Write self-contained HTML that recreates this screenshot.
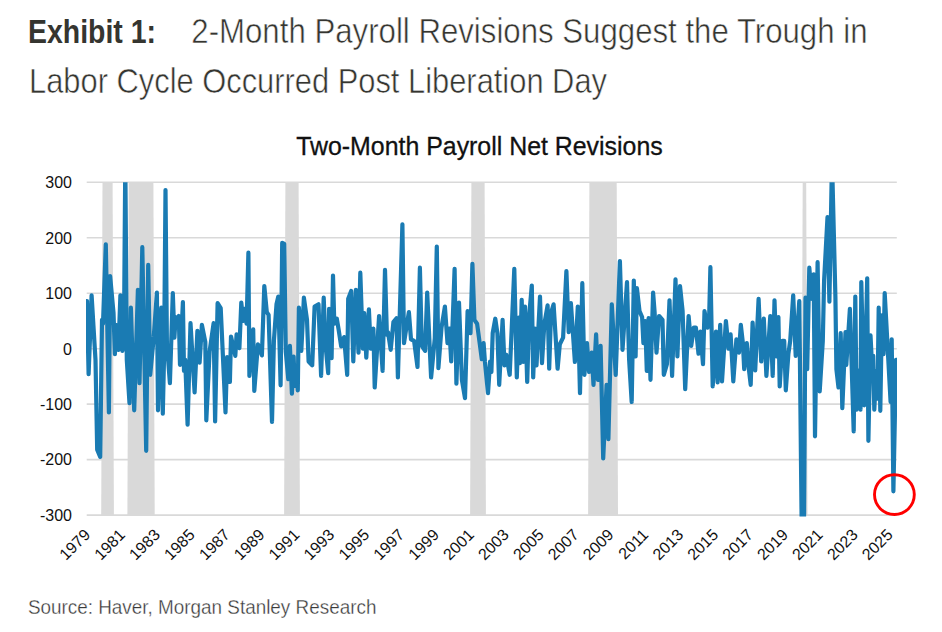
<!DOCTYPE html>
<html><head><meta charset="utf-8"><style>
html,body{margin:0;padding:0;background:#fff;}
body{width:942px;height:632px;overflow:hidden;position:relative;font-family:"Liberation Sans",sans-serif;}
svg{position:absolute;left:0;top:0;}
</style></head><body>
<svg width="942" height="632" viewBox="0 0 942 632" font-family="Liberation Sans, sans-serif">
<defs><clipPath id="pc"><rect x="86" y="182.2" width="811" height="334.4"/></clipPath></defs>
<g fill="#353530">
<text x="28.0" y="42.5" font-weight="bold" font-size="32.4" textLength="128.0" lengthAdjust="spacingAndGlyphs">Exhibit 1:</text>
<text x="191.3" y="43.1" font-size="34.6" fill="#353530" stroke="#fff" stroke-width="0.55" textLength="676.2" lengthAdjust="spacingAndGlyphs">2-Month Payroll Revisions Suggest the Trough in</text>
<text x="29.0" y="93.3" font-size="34.6" fill="#353530" stroke="#fff" stroke-width="0.55" textLength="578.0" lengthAdjust="spacingAndGlyphs">Labor Cycle Occurred Post Liberation Day</text>
</g>
<text x="296.2" y="155" font-size="25.2" fill="#111" stroke="#111" stroke-width="0.3" textLength="366.5" lengthAdjust="spacingAndGlyphs">Two-Month Payroll Net Revisions</text>
<g fill="#d9d9d9"><polygon points="101.2,515.1 113.9,515.1 112.6,182.3 102.5,182.3"/><polygon points="127.4,515.1 154.7,515.1 153.4,182.3 128.7,182.3"/><polygon points="284.1,515.1 299.9,515.1 298.6,182.3 285.4,182.3"/><polygon points="470.1,515.1 485.9,515.1 484.6,182.3 471.4,182.3"/><polygon points="588.1,515.1 618.0,515.1 616.7,182.3 589.4,182.3"/><polygon points="801.4,515.1 807.5,515.1 806.2,182.3 802.7,182.3"/></g>
<g stroke="#d9d9d9" stroke-width="1.6"><line x1="86.7" x2="896.8" y1="182.29" y2="182.29"/><line x1="86.7" x2="896.8" y1="237.76" y2="237.76"/><line x1="86.7" x2="896.8" y1="293.23" y2="293.23"/><line x1="86.7" x2="896.8" y1="348.70" y2="348.70"/><line x1="86.7" x2="896.8" y1="404.17" y2="404.17"/><line x1="86.7" x2="896.8" y1="459.64" y2="459.64"/><line x1="86.7" x2="896.8" y1="515.11" y2="515.11"/></g>
<g fill="#111" font-size="16"><text x="72" y="188.1" text-anchor="end">300</text><text x="72" y="243.6" text-anchor="end">200</text><text x="72" y="299.0" text-anchor="end">100</text><text x="72" y="354.5" text-anchor="end">0</text><text x="72" y="410.0" text-anchor="end">-100</text><text x="72" y="465.4" text-anchor="end">-200</text><text x="72" y="520.9" text-anchor="end">-300</text></g>
<g fill="#111" font-size="16"><text transform="translate(91.2,535.8) rotate(-45)" text-anchor="end" x="0" y="0">1979</text><text transform="translate(126.1,535.8) rotate(-45)" text-anchor="end" x="0" y="0">1981</text><text transform="translate(161.0,535.8) rotate(-45)" text-anchor="end" x="0" y="0">1983</text><text transform="translate(195.9,535.8) rotate(-45)" text-anchor="end" x="0" y="0">1985</text><text transform="translate(230.8,535.8) rotate(-45)" text-anchor="end" x="0" y="0">1987</text><text transform="translate(265.6,535.8) rotate(-45)" text-anchor="end" x="0" y="0">1989</text><text transform="translate(300.5,535.8) rotate(-45)" text-anchor="end" x="0" y="0">1991</text><text transform="translate(335.4,535.8) rotate(-45)" text-anchor="end" x="0" y="0">1993</text><text transform="translate(370.3,535.8) rotate(-45)" text-anchor="end" x="0" y="0">1995</text><text transform="translate(405.2,535.8) rotate(-45)" text-anchor="end" x="0" y="0">1997</text><text transform="translate(440.1,535.8) rotate(-45)" text-anchor="end" x="0" y="0">1999</text><text transform="translate(475.0,535.8) rotate(-45)" text-anchor="end" x="0" y="0">2001</text><text transform="translate(509.9,535.8) rotate(-45)" text-anchor="end" x="0" y="0">2003</text><text transform="translate(544.8,535.8) rotate(-45)" text-anchor="end" x="0" y="0">2005</text><text transform="translate(579.7,535.8) rotate(-45)" text-anchor="end" x="0" y="0">2007</text><text transform="translate(614.6,535.8) rotate(-45)" text-anchor="end" x="0" y="0">2009</text><text transform="translate(649.4,535.8) rotate(-45)" text-anchor="end" x="0" y="0">2011</text><text transform="translate(684.3,535.8) rotate(-45)" text-anchor="end" x="0" y="0">2013</text><text transform="translate(719.2,535.8) rotate(-45)" text-anchor="end" x="0" y="0">2015</text><text transform="translate(754.1,535.8) rotate(-45)" text-anchor="end" x="0" y="0">2017</text><text transform="translate(789.0,535.8) rotate(-45)" text-anchor="end" x="0" y="0">2019</text><text transform="translate(823.9,535.8) rotate(-45)" text-anchor="end" x="0" y="0">2021</text><text transform="translate(858.8,535.8) rotate(-45)" text-anchor="end" x="0" y="0">2023</text><text transform="translate(893.7,535.8) rotate(-45)" text-anchor="end" x="0" y="0">2025</text></g>
<path clip-path="url(#pc)" d="M87.0,301.0 L88.6,374.2 L91.6,295.4 L95.5,359.8 L97.2,449.7 L100.2,456.9 L102.0,319.9 L103.0,323.7 L105.8,244.4 L108.9,412.5 L110.1,276.0 L113.5,312.6 L114.9,354.2 L115.8,324.8 L118.4,349.8 L120.4,295.4 L122.4,350.9 L123.9,343.2 L125.3,160.1 L126.8,359.8 L129.5,403.1 L130.9,307.7 L134.2,410.3 L137.9,289.9 L139.5,383.1 L142.3,247.2 L146.2,450.8 L148.2,264.9 L150.2,374.8 L153.8,336.5 L156.9,292.7 L158.0,410.3 L161.3,307.7 L162.8,413.6 L164.1,354.2 L165.5,190.1 L166.9,343.2 L169.9,383.1 L172.8,293.2 L174.4,337.6 L175.6,317.1 L177.0,323.7 L178.8,316.0 L180.0,364.8 L182.9,302.1 L184.0,370.9 L185.2,359.8 L187.6,424.7 L190.5,323.2 L194.6,392.5 L197.4,330.9 L199.6,362.6 L201.9,324.8 L205.3,342.0 L206.3,420.3 L209.6,351.5 L213.6,323.2 L215.1,421.4 L217.6,303.2 L220.7,308.2 L225.5,412.5 L227.1,357.0 L229.9,382.0 L231.0,336.5 L235.3,355.9 L236.6,334.3 L239.4,348.1 L241.3,302.7 L243.2,321.0 L244.5,308.8 L246.6,323.7 L248.4,252.7 L249.4,375.9 L253.2,329.3 L254.3,390.9 L257.9,344.3 L261.9,355.4 L264.3,286.0 L266.8,312.1 L268.6,314.9 L272.0,421.9 L273.9,340.9 L276.5,304.3 L278.3,296.6 L280.6,385.3 L282.2,242.8 L284.2,243.9 L285.8,351.5 L288.3,379.2 L289.9,345.9 L291.9,393.6 L293.6,356.5 L294.8,385.9 L296.2,368.1 L297.8,390.3 L298.9,307.7 L301.3,350.9 L303.9,297.7 L307.0,319.9 L308.6,361.5 L312.2,365.3 L314.6,306.5 L318.5,304.3 L321.1,375.9 L323.7,297.7 L325.6,345.9 L328.2,373.1 L329.1,308.8 L331.6,358.1 L333.0,275.5 L334.3,323.7 L336.8,318.7 L338.6,329.3 L341.2,346.5 L344.1,337.1 L347.2,374.8 L348.2,298.8 L351.2,291.0 L353.3,361.5 L355.9,289.9 L358.5,352.6 L360.3,272.7 L362.9,348.7 L364.2,313.2 L366.3,357.6 L368.9,309.3 L370.7,348.7 L373.4,328.7 L374.7,387.5 L379.1,316.0 L382.6,370.9 L385.0,269.9 L386.9,334.8 L388.0,332.1 L390.7,349.8 L393.4,322.1 L396.5,318.2 L397.9,377.5 L402.4,224.4 L404.0,343.2 L406.8,324.8 L408.9,312.1 L411.0,339.3 L414.1,340.9 L417.5,367.0 L419.9,267.7 L421.8,345.9 L425.1,350.9 L427.2,292.7 L431.1,377.5 L434.8,338.2 L436.8,246.6 L438.4,368.1 L441.5,327.6 L444.9,306.5 L447.5,343.2 L449.4,328.7 L451.2,361.5 L454.6,268.8 L456.4,383.6 L459.0,302.7 L461.9,379.8 L465.0,398.1 L467.6,311.0 L470.5,333.2 L472.4,263.8 L474.4,319.9 L477.1,323.7 L479.7,343.2 L481.8,359.2 L483.6,343.2 L484.9,361.5 L488.0,393.1 L490.1,361.5 L491.4,372.0 L492.7,333.2 L495.3,318.7 L497.4,333.2 L499.2,384.8 L502.6,319.9 L504.5,365.3 L506.3,354.8 L509.7,374.8 L514.3,268.8 L516.8,377.5 L518.8,317.6 L519.9,363.1 L521.7,299.9 L523.2,362.0 L525.0,306.5 L527.2,382.0 L529.2,315.4 L531.8,285.5 L533.2,377.5 L535.0,328.7 L536.5,365.3 L540.0,296.6 L542.0,363.1 L544.3,324.3 L547.6,305.4 L549.2,368.7 L551.0,313.2 L553.6,304.3 L557.6,368.7 L559.8,344.3 L563.1,337.6 L566.4,271.0 L568.7,332.1 L570.9,303.2 L574.9,362.0 L577.8,306.5 L580.0,393.1 L582.3,283.2 L584.4,374.8 L587.0,343.2 L589.1,372.0 L591.7,352.6 L593.5,384.8 L596.1,334.3 L598.0,379.8 L600.6,345.9 L603.2,458.5 L606.6,384.8 L608.4,439.1 L611.8,304.3 L615.7,374.8 L619.9,261.1 L622.5,349.8 L627.0,282.1 L629.1,359.2 L631.7,402.0 L633.8,280.5 L635.6,356.5 L636.9,288.2 L639.5,311.0 L642.1,317.1 L643.4,343.2 L645.2,321.0 L646.8,370.9 L648.6,318.2 L650.5,379.8 L653.1,292.7 L654.6,312.1 L656.5,352.6 L659.1,316.0 L662.5,319.9 L663.8,374.8 L666.9,364.2 L669.5,300.4 L672.1,375.9 L675.5,279.4 L677.4,356.5 L680.0,286.0 L682.6,311.0 L685.2,389.2 L688.6,316.0 L691.2,345.9 L693.8,327.6 L695.9,327.6 L698.5,353.7 L700.4,331.5 L703.0,364.2 L704.5,311.0 L707.5,327.6 L709.2,315.4 L710.4,267.2 L712.7,386.4 L716.0,331.5 L717.6,382.5 L720.2,324.8 L722.0,381.4 L725.9,321.0 L728.6,348.7 L730.6,334.3 L733.3,381.4 L736.4,339.3 L739.0,352.6 L740.8,324.8 L742.9,343.2 L744.2,369.2 L746.8,343.2 L748.9,369.2 L750.7,384.8 L752.6,322.6 L755.2,370.3 L758.6,298.8 L761.2,361.5 L763.8,318.7 L766.4,375.9 L770.3,316.0 L772.7,375.9 L774.5,300.4 L776.4,356.5 L778.4,317.1 L779.7,386.4 L782.4,340.9 L784.2,340.9 L785.8,390.3 L788.4,353.7 L790.2,340.9 L793.2,295.4 L795.7,355.9 L799.3,301.0 L803.1,659.3 L805.5,297.7 L807.2,369.2 L809.3,267.7 L811.9,298.8 L813.7,274.4 L815.0,436.3 L817.6,262.2 L819.7,391.4 L822.8,340.9 L824.1,280.5 L827.5,217.2 L829.4,301.6 L832.0,160.1 L835.4,296.6 L836.4,369.2 L838.5,387.5 L840.7,333.2 L842.3,408.1 L845.5,332.1 L846.3,364.8 L849.9,308.8 L853.7,431.4 L855.3,296.6 L856.6,409.7 L858.5,370.9 L860.5,409.7 L861.3,282.1 L864.2,405.3 L867.2,278.3 L868.4,440.8 L870.5,335.4 L872.0,365.3 L873.2,355.9 L874.3,409.7 L876.0,370.9 L877.5,398.6 L878.7,307.7 L880.3,410.8 L881.9,315.4 L883.5,354.2 L884.7,293.2 L890.6,402.0 L891.7,339.3 L893.4,491.3 L896.0,359.8" fill="none" stroke="#1a7bb3" stroke-width="4.2" stroke-linejoin="round" stroke-linecap="round"/>
<circle cx="894.4" cy="494.6" r="19.9" fill="none" stroke="#ff0000" stroke-width="2.9"/>
<text x="27.9" y="613.9" font-size="19.3" fill="#3a3a3a" stroke="#fff" stroke-width="0.3" textLength="348.5" lengthAdjust="spacingAndGlyphs">Source: Haver, Morgan Stanley Research</text>
</svg>
</body></html>
